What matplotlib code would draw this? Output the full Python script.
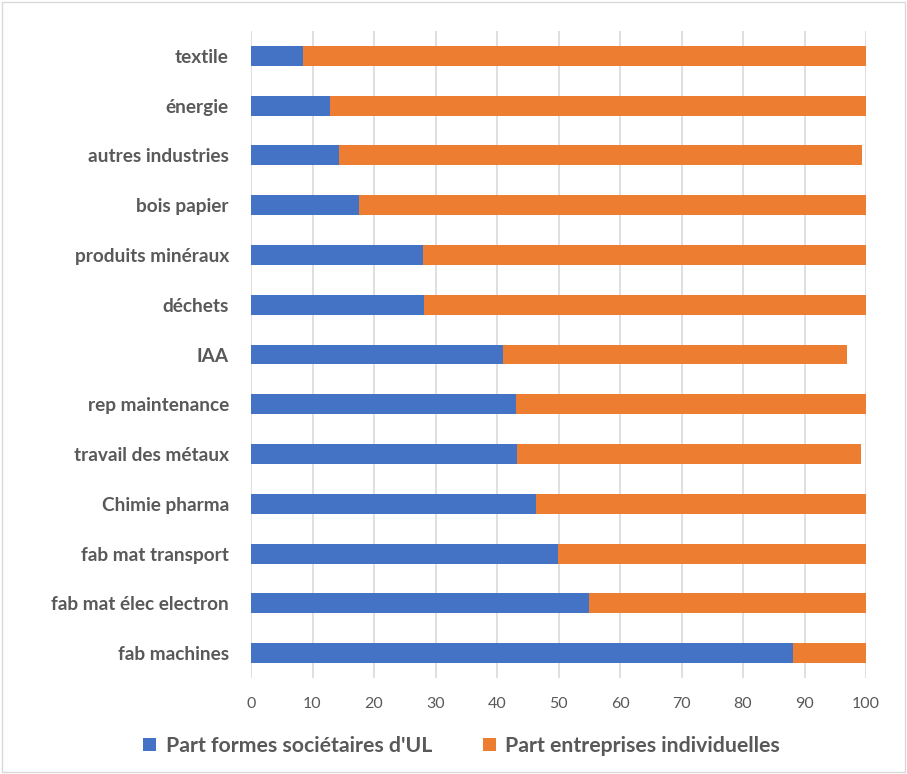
import matplotlib.pyplot as plt
from matplotlib.patches import Rectangle

categories = ['fab machines', 'fab mat élec electron', 'fab mat transport',
              'Chimie pharma', 'travail des métaux', 'rep maintenance', 'IAA',
              'déchets', 'produits minéraux', 'bois papier', 'autres industries',
              'énergie', 'textile']
part_societes = [88.1, 55.0, 49.9, 46.4, 43.3, 43.1, 41.0,
                 28.2, 27.9, 17.6, 14.3, 12.9, 8.5]
part_individuelles = [11.9, 45.0, 50.1, 53.6, 55.9, 56.9, 55.9,
                      71.8, 72.1, 82.4, 85.1, 87.1, 91.5]

plt.rcParams['font.family'] = ['Lato', 'DejaVu Sans']

fig = plt.figure(figsize=(9.07, 7.74), dpi=100)
ax = fig.add_axes([251 / 907, 1 - 678 / 774, 615 / 907, 647 / 774])

ax.barh(categories, part_societes, height=0.4, color='#4472C4',
        label="Part formes sociétaires d'UL", zorder=3)
ax.barh(categories, part_individuelles, left=part_societes, height=0.4,
        color='#ED7D31', label='Part entreprises individuelles', zorder=3)

ax.set_xlim(0, 100)
ax.set_ylim(-0.5, len(categories) - 0.5)
ax.set_xticks(range(0, 101, 10))
ax.grid(axis='x', color='#D9D9D9', linewidth=1.2, zorder=0)
for s in ax.spines.values():
    s.set_visible(False)
ax.tick_params(axis='both', length=0)
ax.tick_params(axis='x', labelsize=11.5, labelcolor='#595959', pad=14)
ax.tick_params(axis='y', pad=16)
for lbl in ax.get_yticklabels():
    lbl.set_fontsize(13.7)
    lbl.set_fontweight('bold')
    lbl.set_color('#595959')

fig.legend(loc='center', bbox_to_anchor=(0.509, 1 - 746 / 774), ncol=2,
           frameon=False, handlelength=0.6, handleheight=0.6,
           handletextpad=0.45, columnspacing=2.4,
           prop={'size': 15.3, 'weight': 'bold'}, labelcolor='#595959')

fig.patches.append(Rectangle((0.002, 0.002), 0.996, 0.996, transform=fig.transFigure,
                             fill=False, edgecolor='#D9D9D9', linewidth=1))

fig.savefig('out.png', dpi=100)
